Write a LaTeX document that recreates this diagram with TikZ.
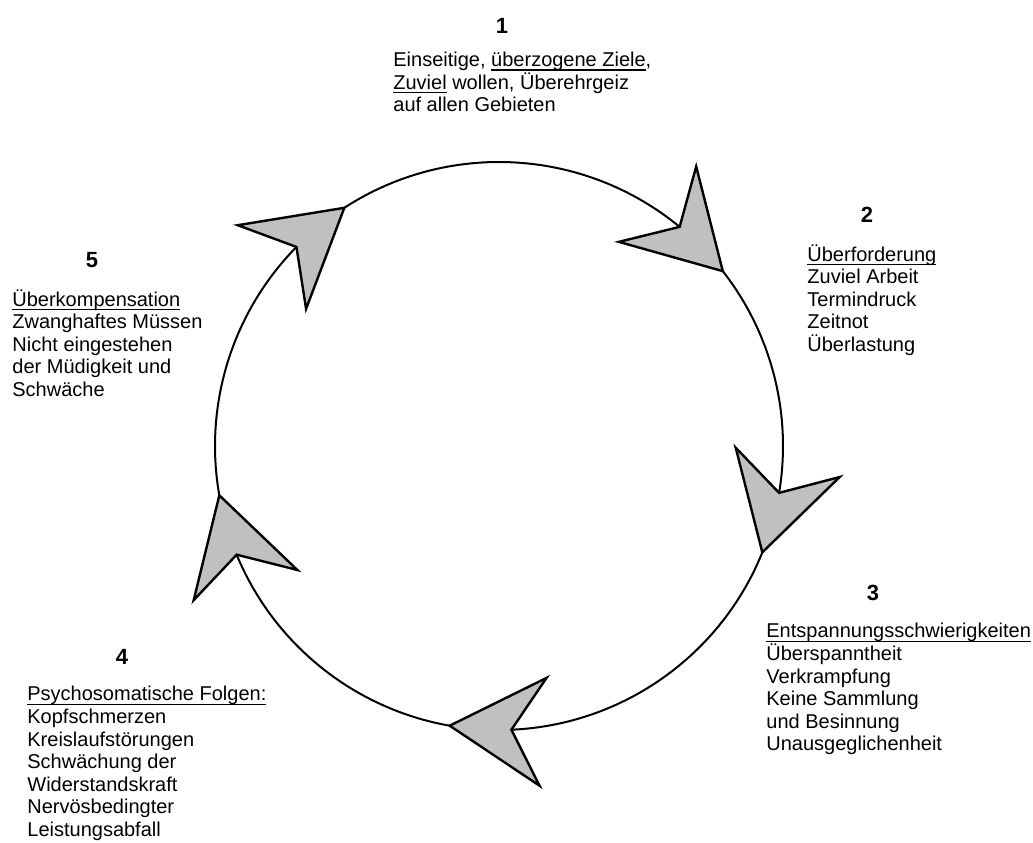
\documentclass[tikz,border=0pt]{standalone}
\usepackage{fontspec}
\setmainfont{Liberation Sans}
\usepackage{xcolor}
\usepackage{tikz}
\usetikzlibrary{calc, positioning}
\definecolor{headgray}{RGB}{192,192,192}
\newcommand\ulbar[1]{\setbox0\hbox{#1}\rlap{\rule[-2pt]{\wd0}{0.55pt}}\box0\relax}

\begin{document}
\begin{tikzpicture}[x=0.5pt, y=0.5pt,
  font=\fontsize{10pt}{11.3pt}\selectfont,
  ring/.style={line width=1pt},
  head/.style={fill=headgray, draw=black, line width=1.2pt, line join=miter},
  num/.style={font=\fontsize{11pt}{12pt}\selectfont\bfseries},
  info/.style={anchor=north west, inner sep=0pt, align=left,
    execute at begin node={\rule{0pt}{9.5pt}}}]
  \useasboundingbox (0,0) rectangle (1033,842);
  \coordinate (c) at (499,396);
  % tips and notches of the arrow heads on the ring
  \foreach \i/\a [evaluate=\a as \b using \a+12.5] in {1/38, 2/-22, 3/-100, 4/-170, 5/123} {
    \coordinate (t\i) at ($(c)+(\a:284)$);
    \coordinate (n\i) at ($(c)+(\b:284)$);
  }
  \foreach \from/\a/\b in {t5/123/50.5, t1/38/-9.5, t2/-22/-87.5, t3/-100/-157.5, t4/-170/-224.5}
    \draw[ring] (\from) arc[start angle=\a, end angle=\b, radius=284];
  \foreach \i in {1,...,5}
    \filldraw[head] (t\i) -- ($(t\i)!54pt!30:(n\i)$) -- (n\i) -- ($(t\i)!54pt!-30:(n\i)$) -- cycle;

  \node[num] (k1) at (502,816.5) {1};
  \node[num] (k2) at (867,627) {2};
  \node[num] (k3) at (873,249) {3};
  \node[num] (k4) at (122,185) {4};
  \node[num] (k5) at (92,582) {5};

  \node[info] (ziele) at (393,790.3) {Einseitige, \ulbar{überzogene Ziele},\\\ulbar{Zuviel} wollen, Überehrgeiz\\auf allen Gebieten};
  \node[info] (ueberf) at (807,598) {\ulbar{Überforderung}\\Zuviel Arbeit\\Termindruck\\Zeitnot\\Überlastung};
  \node[info] (entsp) at (766,219) {\ulbar{Entspannungsschwierigkeiten}\\Überspanntheit\\Verkrampfung\\Keine Sammlung\\und Besinnung\\Unausgeglichenheit};
  \node[info] (psycho) at (27,156) {\ulbar{Psychosomatische Folgen:}\\Kopfschmerzen\\Kreislaufstörungen\\Schwächung der\\Widerstandskraft\\Nervösbedingter\\Leistungsabfall};
  \node[info] (ueberk) at (12,553) {\ulbar{Überkompensation}\\Zwanghaftes Müssen\\Nicht eingestehen\\der Müdigkeit und\\Schwäche};
\end{tikzpicture}
\end{document}
